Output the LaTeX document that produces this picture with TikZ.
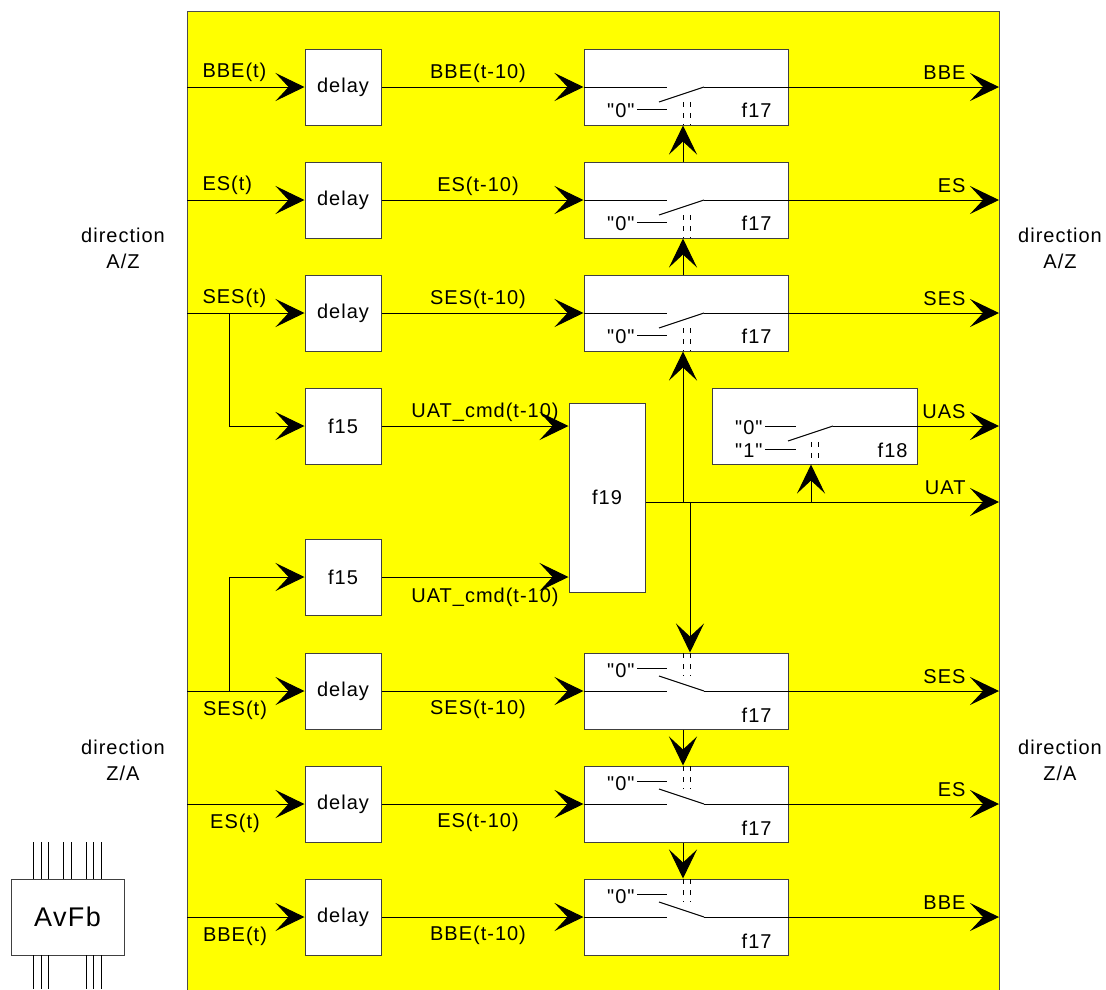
\documentclass[tikz,border=0pt]{standalone}
\usepackage{fontspec}
\setmainfont{Liberation Sans}[LetterSpace=5, Ligatures=TeXOff]
\usetikzlibrary{arrows.meta}
\definecolor{yel}{RGB}{255,255,0}
\newcommand{\qz}{"0"}
\newcommand{\qo}{"1"}
\begin{document}
\begin{tikzpicture}[x=1pt,y=-1pt, line width=1pt,
  box/.style={draw=black!75, fill=white, line width=1pt, inner sep=0pt, minimum width=76pt, minimum height=76pt},
  arr/.style={-{Stealth[length=29pt,width=28pt,inset=13pt]}},
  lbl/.style={inner sep=0pt},
  every node/.style={font=\fontsize{20}{26}\selectfont}]
\useasboundingbox (0,0) rectangle (1106,989);
% yellow frame
\filldraw[fill=yel, draw=black!70] (187,11) rectangle (999,995);

% direction labels
\node[align=center, lbl, anchor=base] (dl1) at (123,268) {direction\\A/Z};
\node[align=center, lbl, anchor=base] (dr1) at (1060,268) {direction\\A/Z};
\node[align=center, lbl, anchor=base] (dl2) at (123,780) {direction\\Z/A};
\node[align=center, lbl, anchor=base] (dr2) at (1060,780) {direction\\Z/A};

% upper rows (direction A/Z)
\foreach \i/\y/\a/\b/\c in {1/87/BBE(t)/BBE(t-10)/BBE, 2/200/ES(t)/ES(t-10)/ES, 3/313/SES(t)/SES(t-10)/SES}{
  \coordinate (in\i) at (187,\y);
  \coordinate (out\i) at (999,\y);
  \node[box] (d\i) at (343,\y) {delay};
  \node[box, minimum width=204pt] (s\i) at (686,\y) {};
  \draw[arr] (in\i) -- (d\i.west);
  \draw[arr] (d\i.east) -- (s\i.west);
  \coordinate (sa\i) at (667,\y);
  \coordinate (sb\i) at (704,\y);
  \coordinate (sl\i) at (659,\y+15);
  \draw (s\i.west) -- (sa\i);
  \draw (sl\i) -- (sb\i);
  \draw[arr] (sb\i) -- (out\i);
  \draw (637,\y+22) -- (667,\y+22);
  \draw[line width=0.8pt, dash pattern=on 5pt off 6pt] (683,\y+15) -- (683,\y+38);
  \draw[line width=0.8pt, dash pattern=on 5pt off 6pt] (690,\y+15) -- (690,\y+38);
  \node[anchor=base west, lbl] (la\i) at (202,\y-10) {\a};
  \node[anchor=base, lbl] (lb\i) at (478,\y-9) {\b};
  \node[anchor=base east, lbl] (lc\i) at (966,\y-8) {\c};
  \node[anchor=base east, lbl] (z\i) at (635,\y+30) {\qz};
  \node[anchor=base east, lbl] (f\i) at (772,\y+30) {f17};
}
\draw[arr] ([xshift=-3pt]s2.north) -- ([xshift=-3pt]s1.south);
\draw[arr] ([xshift=-3pt]s3.north) -- ([xshift=-3pt]s2.south);

% lower rows (direction Z/A)
\foreach \i/\y/\a/\b/\c in {4/691/SES(t)/SES(t-10)/SES, 5/804/ES(t)/ES(t-10)/ES, 6/917/BBE(t)/BBE(t-10)/BBE}{
  \coordinate (in\i) at (187,\y);
  \coordinate (out\i) at (999,\y);
  \node[box] (d\i) at (343,\y) {delay};
  \node[box, minimum width=204pt] (s\i) at (686,\y) {};
  \draw[arr] (in\i) -- (d\i.west);
  \draw[arr] (d\i.east) -- (s\i.west);
  \coordinate (sa\i) at (667,\y);
  \coordinate (sb\i) at (704,\y);
  \coordinate (sl\i) at (659,\y-15);
  \draw (s\i.west) -- (sa\i);
  \draw (sl\i) -- (sb\i);
  \draw[arr] (sb\i) -- (out\i);
  \draw (637,\y-23) -- (667,\y-23);
  \draw[line width=0.8pt, dash pattern=on 5pt off 6pt] (683,\y-38) -- (683,\y-15);
  \draw[line width=0.8pt, dash pattern=on 5pt off 6pt] (690,\y-38) -- (690,\y-15);
  \node[anchor=base, lbl] (la\i) at (235,\y+24) {\a};
  \node[anchor=base, lbl] (lb\i) at (478,\y+23) {\b};
  \node[anchor=base east, lbl] (lc\i) at (966,\y-8) {\c};
  \node[anchor=base east, lbl] (z\i) at (635,\y-14) {\qz};
  \node[anchor=base east, lbl] (f\i) at (772,\y+31) {f17};
}
\draw[arr] ([xshift=-3pt]s4.south) -- ([xshift=-3pt]s5.north);
\draw[arr] ([xshift=-3pt]s5.south) -- ([xshift=-3pt]s6.north);

% f15 and f19
\node[box] (f15a) at (343,426) {f15};
\node[box] (f15b) at (343,577) {f15};
\node[box, minimum height=189pt] (f19) at (607,497.5) {f19};
\coordinate (br1) at (229,313);
\coordinate (br2) at (229,691);
\draw[arr] (br1) |- (f15a.west);
\draw[arr] (br2) |- (f15b.west);
\node[anchor=base, lbl] (uc1) at (485,417) {UAT\_cmd(t-10)};
\node[anchor=base, lbl] (uc2) at (485,602) {UAT\_cmd(t-10)};
\draw[arr] (f15a.east) -- (f15a.east -| f19.west);
\draw[arr] (f15b.east) -- (f15b.east -| f19.west);

% f19 outputs
\coordinate (uatend) at (999,502);
\coordinate (j1) at (683,502);
\coordinate (j2) at (690,502);
\coordinate (j3) at (811,502);
\draw[arr] (f19.east |- uatend) -- (uatend);
\draw[arr] (j1) -- ([xshift=-3pt]s3.south);
\draw[arr] (j2) -- ([xshift=4pt]s4.north);
\node[anchor=base east, lbl] (uatl) at (966,494) {UAT};

% f18
\node[box, minimum width=205pt] (f18) at (814.5,426) {};
\coordinate (uasend) at (999,426);
\coordinate (ua) at (833,426);
\coordinate (ul) at (788,441);
\draw (765,426) -- (796,426);
\draw (765,449) -- (796,449);
\draw (ul) -- (ua);
\draw[arr] (ua) -- (uasend);
\draw[line width=0.8pt, dash pattern=on 5pt off 6pt] (811,442) -- (811,464);
\draw[line width=0.8pt, dash pattern=on 5pt off 6pt] (818,442) -- (818,464);
\draw[arr] (j3) -- (j3 |- f18.south);
\node[anchor=base east, lbl] (q0) at (763,434) {\qz};
\node[anchor=base east, lbl] (q1) at (763,457) {\qo};
\node[anchor=base east, lbl] (f18l) at (908,457) {f18};
\node[anchor=base east, lbl] (uasl) at (966,418) {UAS};

% AvFb
\node[box, minimum width=113pt, font=\fontsize{27}{30}\selectfont] (av) at (67.5,917) {AvFb};
\foreach \x in {33,41,48,63,71,86,93,101}{
  \draw[line width=0.8pt] (\x,842) -- (\x,879);
}
\foreach \x in {33,41,48,86,93,101}{
  \draw[line width=0.8pt] (\x,955) -- (\x,989);
}
\end{tikzpicture}
\end{document}
